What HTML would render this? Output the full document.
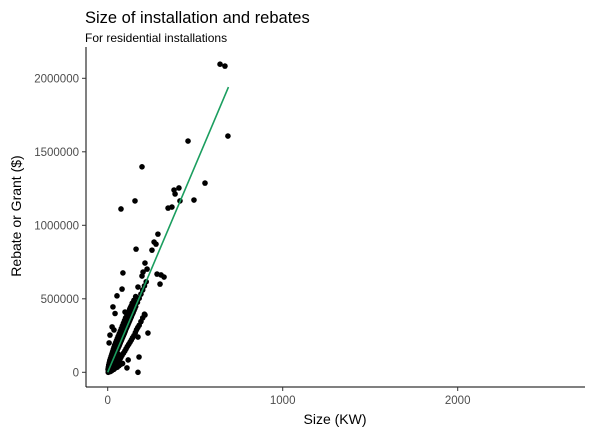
<!DOCTYPE html>
<html><head><meta charset="utf-8"><style>
body{margin:0;background:#fff;}
svg{display:block;font-family:"Liberation Sans",Arial,sans-serif;}
</style></head><body>
<svg id="chart" width="592" height="434">
<text x="85" y="23" font-size="16.5" fill="#000">Size of installation and rebates</text>
<text x="85" y="42" font-size="12" fill="#000">For residential installations</text>
<text transform="translate(21,216) rotate(-90)" text-anchor="middle" font-size="14" fill="#000">Rebate or Grant ($)</text>
<text x="335" y="424" text-anchor="middle" font-size="14" fill="#000">Size (KW)</text>
<g id="marks"></g>
<line x1="86" y1="47" x2="86" y2="387" stroke="#000" stroke-width="1"/>
<line x1="86" y1="387" x2="585" y2="387" stroke="#000" stroke-width="1"/>
<g id="axes"></g>
</svg>
<script>
const xTicks=[0,1000,2000];
const yTicks=[0,500000,1000000,1500000,2000000];
const pointsX=[642,670,687,459,556,379,407,385,493,413,345,367,196,76,156,287,265,276,253,162,213,225,202,196,87,282,305,322,299,173,82,
213,230,173,179,173,117,110,25,13,8,30,42,36,99,53,
5,8,10,12,15,18,20,22,25,28,30,33,35,38,40,42,45,48,50,52,55,58,60,62,65,68,70,72,75,78,80,82,85,88,90,92,95,98,100,105,110,115,120,125,130,135,140,145,150,155,160,170,180,190,200,210,220,
6,10,14,18,22,26,30,34,38,42,46,50,55,60,65,70,75,80,85,90,95,100,110,120,130,140,
3,5,7,9,11,13,15,17,19,21,24,27,30,33,36,40,44,48,52,56,60,20,25,35,45,55,65,75,85,
15,22,30,38,45,52,60,68,75,82,90,98,105,112,120,128,135,142,150,158,165,172,180,190,200,210,
2,4,6,9,12,16,20,24,28,32,36,40,45,50,55,60,66,72,78,84,90,96,102,110,118,126,134,142,150,160];
const pointsY=[2096000,2083000,1607000,1573000,1287000,1240000,1254000,1213000,1172000,1166000,1117000,1124000,1398000,1111000,1166000,940000,886000,872000,831000,838000,743000,702000,682000,655000,676000,668000,662000,648000,600000,580000,566000,
390000,267000,240000,104000,0,84000,30000,309000,253000,200000,445000,400000,288000,410000,520000,
15000,22000,30000,35000,45000,50000,58000,62000,70000,80000,85000,95000,98000,105000,112000,118000,125000,135000,140000,146000,155000,162000,168000,175000,180000,190000,196000,202000,210000,218000,225000,230000,238000,246000,252000,258000,265000,275000,280000,295000,308000,322000,336000,350000,364000,378000,392000,405000,420000,434000,448000,476000,504000,532000,560000,588000,616000,
30000,45000,55000,70000,85000,95000,110000,125000,140000,150000,165000,180000,200000,215000,235000,250000,270000,285000,300000,320000,335000,350000,380000,410000,440000,470000,
0,5000,8000,12000,15000,20000,25000,30000,35000,40000,45000,50000,55000,60000,65000,75000,85000,95000,105000,115000,125000,10000,15000,20000,30000,35000,45000,55000,60000,
5000,10000,20000,30000,40000,55000,70000,85000,100000,115000,130000,145000,160000,175000,190000,205000,220000,235000,250000,270000,290000,305000,320000,345000,370000,395000,
20000,35000,50000,65000,80000,95000,110000,125000,140000,155000,170000,185000,200000,215000,230000,245000,262000,280000,298000,316000,334000,352000,370000,390000,410000,430000,450000,470000,490000,515000];
const lineX=[0,690];
const lineY=[0,1940000];
function sx(v){return 107.7+v*0.175;}
function sy(v){return 372.3-v*0.000147;}
const NS="http://www.w3.org/2000/svg";
const marks=document.getElementById('marks');
const axes=document.getElementById('axes');
for(let i=0;i<pointsX.length;i++){
  const c=document.createElementNS(NS,'circle');
  c.setAttribute('cx',sx(pointsX[i]));c.setAttribute('cy',sy(pointsY[i]));c.setAttribute('r',2.8);c.setAttribute('fill','#000');
  
  
  marks.appendChild(c);
}
const ln=document.createElementNS(NS,'line');
ln.setAttribute('x1',sx(lineX[0]));ln.setAttribute('y1',sy(lineY[0]));ln.setAttribute('x2',sx(lineX[1]));ln.setAttribute('y2',sy(lineY[1]));
ln.setAttribute('stroke','#1b9e5f');ln.setAttribute('stroke-width','1.6');


marks.appendChild(ln);
xTicks.forEach(t=>{
  const l=document.createElementNS(NS,'line');
  l.setAttribute('x1',sx(t));l.setAttribute('x2',sx(t));l.setAttribute('y1',387);l.setAttribute('y2',391);l.setAttribute('stroke','#333');
  
  
  axes.appendChild(l);
  const tx=document.createElementNS(NS,'text');
  tx.setAttribute('x',sx(t));tx.setAttribute('y',404);tx.setAttribute('text-anchor','middle');tx.setAttribute('font-size','11.5');tx.setAttribute('fill','#4d4d4d');
  tx.textContent=t;
  
  
  axes.appendChild(tx);
});
yTicks.forEach(t=>{
  const l=document.createElementNS(NS,'line');
  l.setAttribute('x1',82);l.setAttribute('x2',86);l.setAttribute('y1',sy(t));l.setAttribute('y2',sy(t));l.setAttribute('stroke','#333');
  
  
  axes.appendChild(l);
  const tx=document.createElementNS(NS,'text');
  tx.setAttribute('x',79);tx.setAttribute('y',sy(t)+4);tx.setAttribute('text-anchor','end');tx.setAttribute('font-size','11.5');tx.setAttribute('fill','#4d4d4d');
  tx.textContent=t;
  
  
  axes.appendChild(tx);
});
</script>
</body></html>
